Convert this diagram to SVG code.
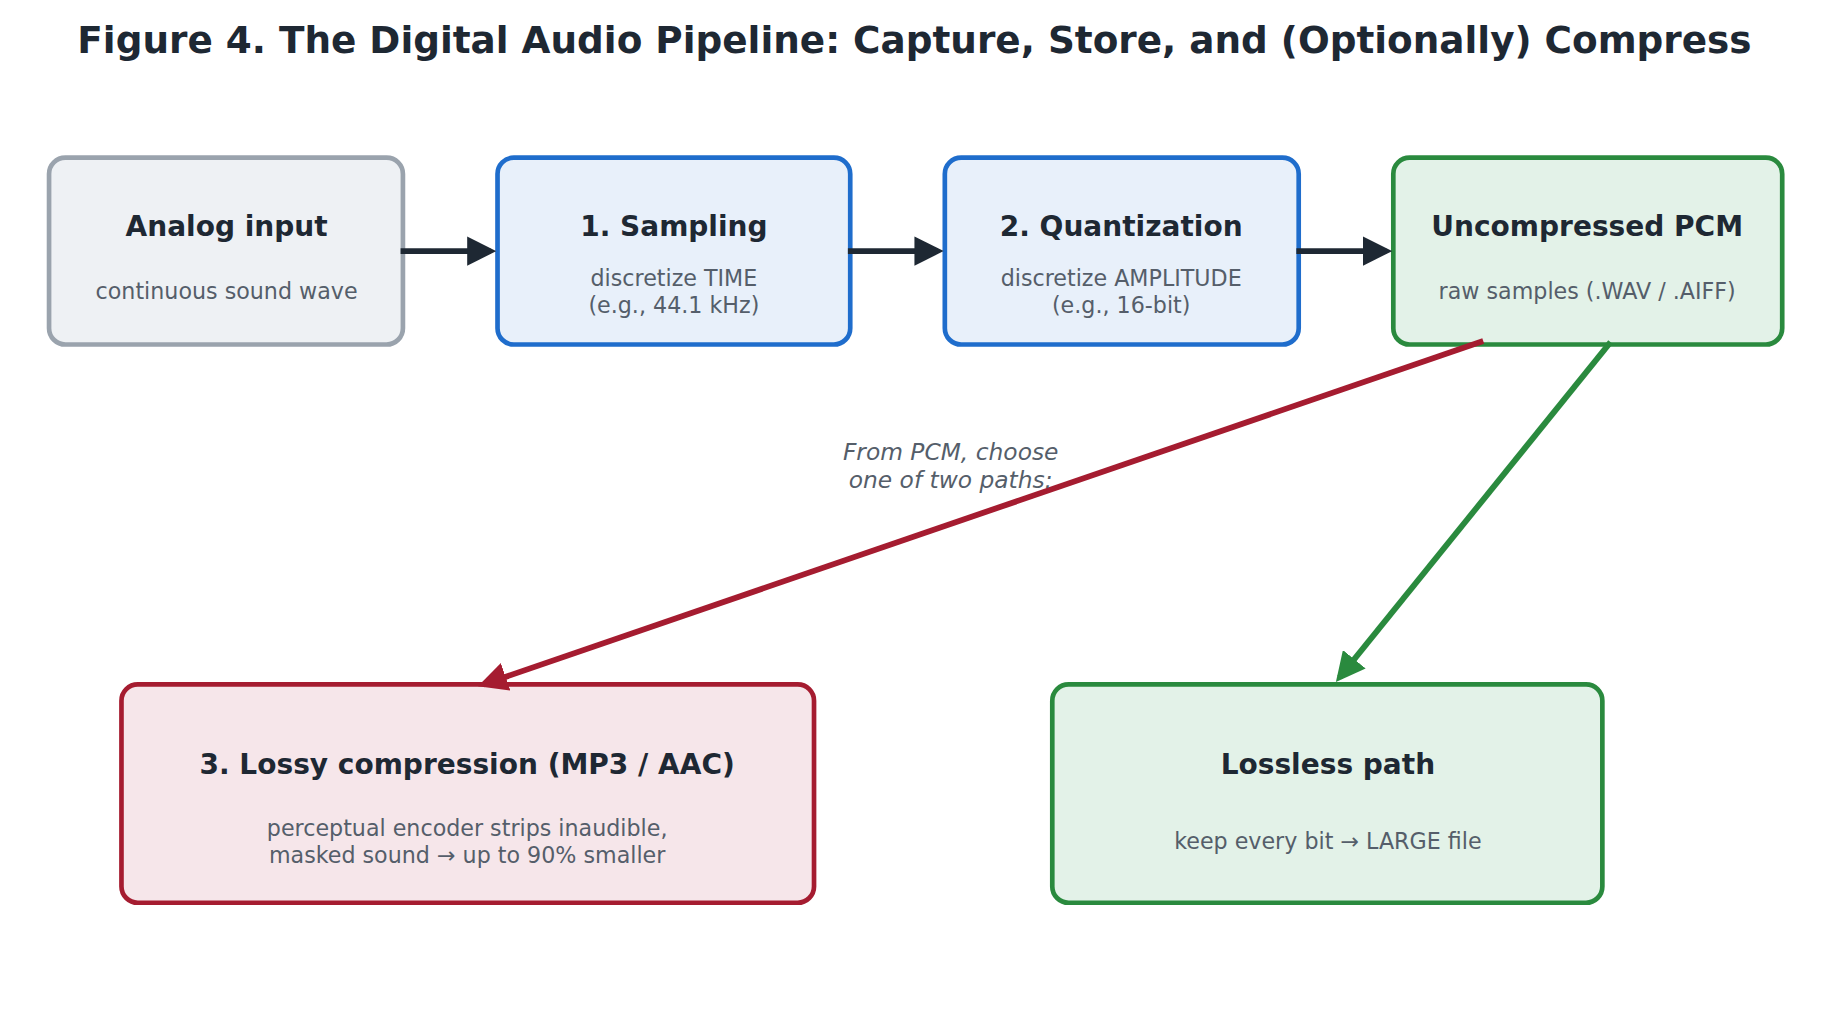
<svg xmlns="http://www.w3.org/2000/svg" width="1822" height="1025" viewBox="0 0 1822 1025">
<style>
text{font-family:"DejaVu Sans","Liberation Sans",sans-serif;text-anchor:middle}
.t{font-weight:bold;font-size:24px;fill:#1e2833}
.s{font-size:19px;fill:#555e6a}
.box{stroke-width:4}
</style>
<defs>
<marker id="ak" viewBox="0 0 10 10" refX="8" refY="5" markerWidth="5" markerHeight="5" orient="auto"><path d="M0,0L10,5L0,10z" fill="#1e2833"/></marker>
<marker id="ar" viewBox="0 0 10 10" refX="8" refY="5" markerWidth="5" markerHeight="5" orient="auto"><path d="M0,0L10,5L0,10z" fill="#a51c30"/></marker>
<marker id="ag" viewBox="0 0 10 10" refX="8" refY="5" markerWidth="5" markerHeight="5" orient="auto"><path d="M0,0L10,5L0,10z" fill="#2a8a3e"/></marker>
</defs>
<rect width="1822" height="1025" fill="#fff"/>
<g transform="scale(1.1679)">
<text x="783" y="45" style="font-weight:bold;font-size:32px;fill:#1e2833">Figure 4.  The Digital Audio Pipeline: Capture, Store, and (Optionally) Compress</text>
<g id="analog"><rect class="box" x="42" y="135" width="303" height="160" rx="14" fill="#eef1f4" stroke="#9aa3ad"/><text class="t" x="194" y="202">Analog input</text><text class="s" x="194" y="256">continuous sound wave</text></g>
<g id="sampling"><rect class="box" x="426" y="135" width="302" height="160" rx="14" fill="#e8f0fa" stroke="#1f6dcc"/><text class="t" x="577" y="202">1. Sampling</text><text class="s" x="577" y="245">discretize TIME</text><text class="s" x="577" y="268">(e.g., 44.1 kHz)</text></g>
<g id="quant"><rect class="box" x="809" y="135" width="303" height="160" rx="14" fill="#e8f0fa" stroke="#1f6dcc"/><text class="t" x="960" y="202">2. Quantization</text><text class="s" x="960" y="245">discretize AMPLITUDE</text><text class="s" x="960" y="268">(e.g., 16-bit)</text></g>
<g id="pcm"><rect class="box" x="1193" y="135" width="333" height="160" rx="14" fill="#e3f2e8" stroke="#2a8a3e"/><text class="t" x="1359" y="202">Uncompressed PCM</text><text class="s" x="1359" y="256">raw samples  (.WAV / .AIFF)</text></g>
<g id="lossy"><rect class="box" x="104" y="586" width="593" height="187" rx="14" fill="#f6e6ea" stroke="#a51c30"/><text class="t" x="400" y="663">3. Lossy compression  (MP3 / AAC)</text><text class="s" x="400" y="716">perceptual encoder strips inaudible,</text><text class="s" x="400" y="739">masked sound  →  up to 90% smaller</text></g>
<g id="lossless"><rect class="box" x="901" y="586" width="471" height="187" rx="14" fill="#e3f2e8" stroke="#2a8a3e"/><text class="t" x="1137" y="663">Lossless path</text><text class="s" x="1137" y="727">keep every bit  →  LARGE file</text></g>
<g id="connectors" fill="none" stroke-width="5">
<line x1="343" y1="215" x2="420" y2="215" stroke="#1e2833" marker-end="url(#ak)"/>
<line x1="726" y1="215" x2="803" y2="215" stroke="#1e2833" marker-end="url(#ak)"/>
<line x1="1110" y1="215" x2="1187" y2="215" stroke="#1e2833" marker-end="url(#ak)"/>
<line x1="1270" y1="292" x2="414" y2="586" stroke="#a51c30" marker-end="url(#ar)"/>
<line x1="1379" y1="293" x2="1147" y2="580" stroke="#2a8a3e" marker-end="url(#ag)"/>
</g>
<text x="814" y="394" style="font-style:italic;font-size:20px;fill:#555e6a">From PCM, choose</text>
<text x="814" y="418" style="font-style:italic;font-size:20px;fill:#555e6a">one of two paths:</text>
</g>
</svg>
